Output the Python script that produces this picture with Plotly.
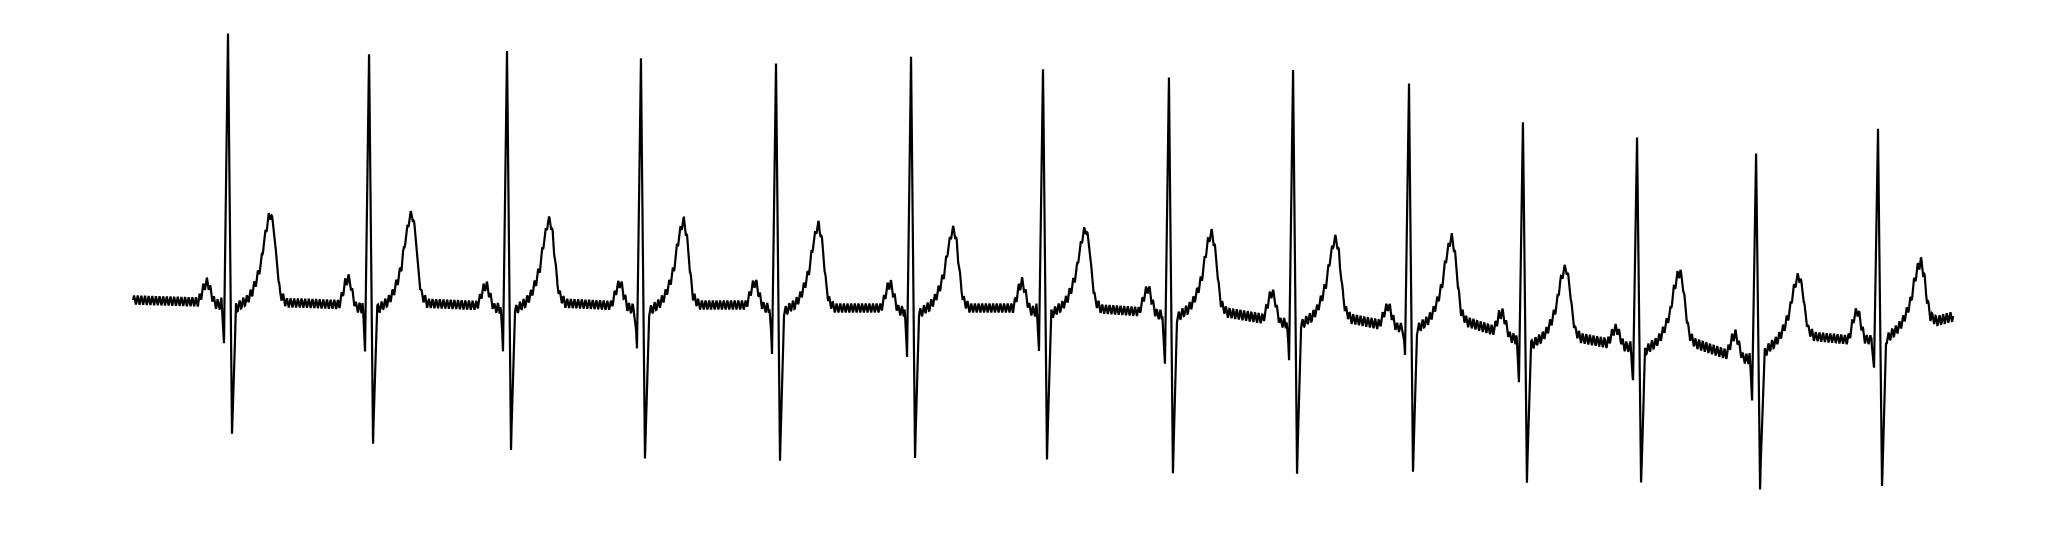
import numpy as np
import plotly.graph_objects as go

# ---- data (time in s, amplitude in mV) ----
r_times = [0.522, 1.297, 2.055, 2.791, 3.533, 4.275, 5.000, 5.692, 6.374, 7.011, 7.637, 8.264, 8.918, 9.588]
p_amp = [0.10, 0.135, 0.105, 0.115, 0.115, 0.125, 0.13, 0.12, 0.14, 0.10, 0.105, 0.085, 0.115, 0.14]
q_amp = [-0.205, -0.21, -0.21, -0.22, -0.235, -0.225, -0.2, -0.26, -0.19, -0.16, -0.20, -0.19, -0.205, -0.185]
r_amp = [1.33, 1.27, 1.295, 1.245, 1.23, 1.28, 1.195, 1.185, 1.27, 1.21, 1.10, 1.015, 1.01, 1.015]
s_amp = [-0.68, -0.69, -0.705, -0.745, -0.75, -0.73, -0.77, -0.785, -0.75, -0.72, -0.71, -0.71, -0.695, -0.76]
t_amp = [0.445, 0.45, 0.42, 0.42, 0.415, 0.395, 0.40, 0.39, 0.40, 0.415, 0.355, 0.355, 0.315, 0.315]

# baseline wander
base_t = [0.000, 0.368, 0.918, 1.192, 1.577, 1.962, 2.346, 2.703, 3.060, 3.445, 3.830, 4.159,
          4.544, 4.901, 5.313, 5.560, 5.945, 6.236, 6.659, 6.879, 7.291, 7.511, 7.676, 7.940,
          8.143, 8.335, 8.555, 8.791, 8.885, 8.984, 9.214, 9.434, 9.533, 9.654, 9.885, 10.000]
base_mv = [0.010, 0.000, -0.005, -0.015, -0.005, -0.020, -0.005, -0.020, -0.015, -0.015, -0.030, -0.030,
           -0.030, -0.030, -0.035, -0.050, -0.045, -0.090, -0.080, -0.120, -0.090, -0.155, -0.190, -0.180,
           -0.215, -0.215, -0.200, -0.275, -0.270, -0.220, -0.170, -0.190, -0.170, -0.155, -0.100, -0.070]

# beat wave shapes: offsets from R peak (s) and fraction of each wave's amplitude
p_dt = [-0.165, -0.148, -0.132, -0.115, -0.104, -0.093, -0.082, -0.071, -0.040, -0.036]
p_fr = [0.0, 0.35, 0.8, 1.0, 0.8, 0.45, 0.15, -0.1, -0.15, 0.0]
q_dt = [-0.036, -0.022, 0.0]
q_fr = [0.0, 1.0, 0.0]
r_dt = [-0.022, 0.0, 0.022]
r_fr = [0.0, 1.0, 0.0]
s_dt = [0.0, 0.022, 0.044, 0.082]
s_fr = [0.0, 1.0, 0.04, 0.0]
t_dt = [0.049, 0.082, 0.104, 0.132, 0.159, 0.181, 0.198, 0.220, 0.236, 0.253, 0.269, 0.286, 0.302, 0.319]
t_fr = [0.0, 0.0, 0.03, 0.12, 0.27, 0.44, 0.70, 0.94, 1.0, 0.78, 0.39, 0.10, 0.05, 0.0]

# mains interference seen on the trace
hum_hz = 50.0
hum_mv = 0.024

fs = 500.0
t_start, t_end = 0.0, 10.0

# ---- build the trace ----
grid = np.arange(t_start, t_end + 1e-9, 1.0 / fs)
extra = []
for rt in r_times:
    for arr in (p_dt, q_dt, r_dt, s_dt, t_dt):
        extra.extend([rt + d for d in arr])
t = np.unique(np.concatenate([grid, np.array(extra)]))
t = t[(t >= t_start) & (t <= t_end)]

y = np.interp(t, base_t, base_mv)
for i, rt in enumerate(r_times):
    d = t - rt
    for dts, frs, amp in ((p_dt, p_fr, p_amp[i]), (q_dt, q_fr, q_amp[i]), (r_dt, r_fr, r_amp[i]),
                          (s_dt, s_fr, s_amp[i]), (t_dt, t_fr, t_amp[i])):
        y += amp * np.interp(d, dts, frs, left=0.0, right=0.0)
y += hum_mv * np.sin(2 * np.pi * hum_hz * t)

fig = go.Figure(go.Scatter(x=t, y=y, mode="lines", line=dict(color="black", width=2.2),
                           hoverinfo="skip"))
fig.update_layout(
    width=2030, height=522,
    margin=dict(l=0, r=0, t=0, b=0),
    paper_bgcolor="white", plot_bgcolor="white",
    showlegend=False,
    xaxis=dict(visible=False, range=[-0.6868, 10.467]),
    yaxis=dict(visible=False, range=[-1.14, 1.47]),
)
fig.write_html("out.html")
